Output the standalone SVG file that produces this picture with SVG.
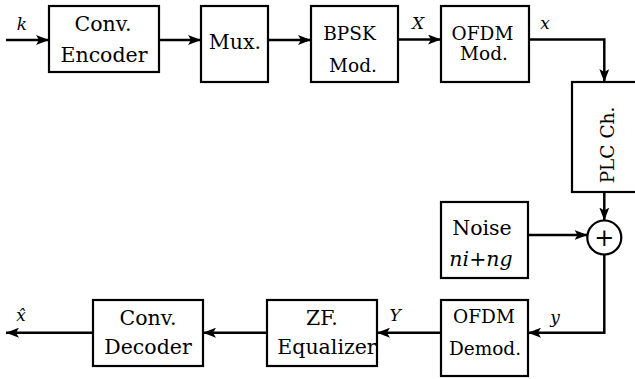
<svg xmlns="http://www.w3.org/2000/svg" width="635" height="379" viewBox="0 0 635 379">
  <defs>
    <marker id="arrow" markerWidth="14" markerHeight="10" refX="13" refY="5" orient="auto" markerUnits="userSpaceOnUse">
      <path d="M0,0 L13,5 L0,10 L3,5 z" fill="#000"/>
    </marker>
  </defs>
  <style>
    .box { fill: #fff; stroke: #000; stroke-width: 2.2; }
    .wire { fill: none; stroke: #000; stroke-width: 2.5; }
    text { fill: #000; text-anchor: middle; font-family: "DejaVu Serif", serif; }
    .cm { font-size: 20.5px; }
    .tm { font-size: 18.5px; }
    .var { font-size: 17px; font-style: italic; }
  </style>
  <rect width="635" height="379" fill="#fff"/>

  <!-- signal connectors -->
  <g id="connectors">
    <line class="wire" x1="6" y1="40" x2="49" y2="40" marker-end="url(#arrow)"/>
    <line class="wire" x1="159" y1="40" x2="201" y2="40" marker-end="url(#arrow)"/>
    <line class="wire" x1="268" y1="40" x2="311" y2="40" marker-end="url(#arrow)"/>
    <line class="wire" x1="398" y1="39.5" x2="441" y2="39.5" marker-end="url(#arrow)"/>
    <path class="wire" d="M529,39.5 H604.3 V82" marker-end="url(#arrow)"/>
    <line class="wire" x1="604.3" y1="192" x2="604.3" y2="220.5" marker-end="url(#arrow)"/>
    <line class="wire" x1="528" y1="235" x2="587.5" y2="235" marker-end="url(#arrow)"/>
    <path class="wire" d="M604.3,254.5 V332.7 H528" marker-end="url(#arrow)"/>
    <line class="wire" x1="441" y1="332.7" x2="377" y2="332.7" marker-end="url(#arrow)"/>
    <line class="wire" x1="267" y1="332.7" x2="203" y2="332.7" marker-end="url(#arrow)"/>
    <line class="wire" x1="93" y1="332.7" x2="6" y2="332.7" marker-end="url(#arrow)"/>
    <text class="var" x="22" y="30">k</text>
    <text class="var" x="418" y="29">X</text>
    <text class="var" x="545" y="29">x</text>
    <text class="var" x="555" y="323">y</text>
    <text class="var" x="395" y="321">Y</text>
    <text class="var" x="21" y="321">x̂</text>
  </g>

  <g id="conv-encoder">
    <rect class="box" x="49" y="6" width="110" height="66"/>
    <text class="cm" x="103" y="31">Conv.</text>
    <text class="cm" x="104" y="62">Encoder</text>
  </g>

  <g id="mux">
    <rect class="box" x="201" y="6" width="67" height="76"/>
    <text class="cm" x="235" y="49" font-size="21">Mux.</text>
  </g>

  <g id="bpsk-mod">
    <rect class="box" x="311" y="6" width="87" height="76"/>
    <text class="tm" x="349.5" y="39.5">BPSK</text>
    <text class="tm" x="353" y="72" font-size="16.5">Mod.</text>
  </g>

  <g id="ofdm-mod">
    <rect class="box" x="441" y="6" width="88" height="76"/>
    <text class="tm" x="482.5" y="39.5">OFDM</text>
    <text class="tm" x="484" y="60" font-size="16.5">Mod.</text>
  </g>

  <g id="plc-channel">
    <rect class="box" x="572" y="82" width="70" height="110"/>
    <text class="tm" transform="translate(614,145) rotate(-90)" x="0" y="0">PLC Ch.</text>
  </g>

  <g id="noise">
    <rect class="box" x="441" y="202" width="87" height="76"/>
    <text class="cm" x="482" y="235" font-size="21">Noise</text>
    <text class="cm" x="481" y="266" font-size="22.5"><tspan font-style="italic">ni</tspan>+<tspan font-style="italic">ng</tspan></text>
  </g>

  <g id="adder">
    <circle cx="604.3" cy="237.5" r="17" fill="#fff" stroke="#000" stroke-width="2.2"/>
    <text x="604.3" y="246" font-size="24">+</text>
  </g>

  <g id="ofdm-demod">
    <rect class="box" x="441" y="300" width="87" height="76"/>
    <text class="tm" x="484" y="323">OFDM</text>
    <text class="tm" x="485" y="355">Demod.</text>
  </g>

  <g id="zf-equalizer">
    <rect class="box" x="267" y="300" width="110" height="66"/>
    <text class="cm" x="322" y="325">ZF.</text>
    <text class="cm" x="327" y="354">Equalizer</text>
  </g>

  <g id="conv-decoder">
    <rect class="box" x="93" y="300" width="110" height="66"/>
    <text class="cm" x="148" y="325">Conv.</text>
    <text class="cm" x="148" y="354">Decoder</text>
  </g>
</svg>
